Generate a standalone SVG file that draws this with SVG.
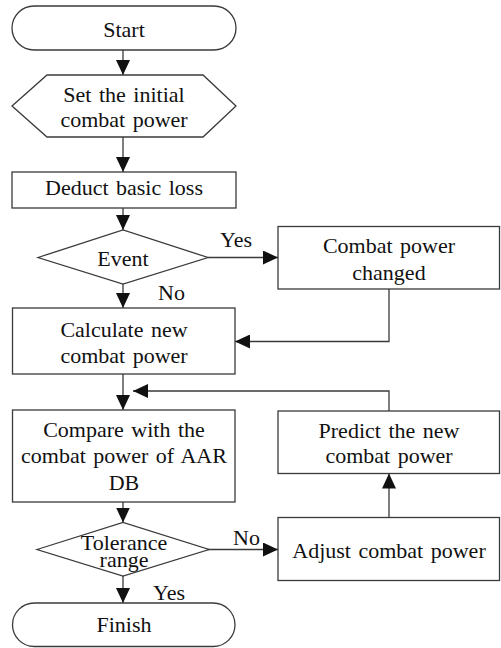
<svg xmlns="http://www.w3.org/2000/svg" width="501" height="648" viewBox="0 0 501 648">
  <style>
    .shape { fill: #ffffff; stroke: #3a3a3a; stroke-width: 1.3; }
    .wire { fill: none; stroke: #3a3a3a; stroke-width: 1.3; }
    .arrow { marker-end: url(#head); }
    .label { font-family: "Times New Roman", "Liberation Serif", Tinos, "DejaVu Serif", "Noto Serif", serif; font-size: 22px; fill: #111111; word-spacing: 2px; }
    .mid { text-anchor: middle; }
  </style>
  <defs>
    <marker id="head" markerUnits="userSpaceOnUse" markerWidth="16" markerHeight="14" refX="15" refY="7" orient="auto">
      <path d="M0,0 L15,7 L0,14 z" fill="#111111"/>
    </marker>
  </defs>
  <rect x="0" y="0" width="501" height="648" fill="#ffffff"/>

  <!-- connectors and their branch labels -->
  <g id="connectors">
    <line class="wire arrow" x1="123" y1="50" x2="123" y2="75"/>
    <line class="wire arrow" x1="123" y1="137" x2="123" y2="172"/>
    <line class="wire arrow" x1="123" y1="208" x2="123" y2="230"/>
    <line class="wire arrow" x1="208" y1="257.5" x2="278" y2="257.5"/>
    <polyline class="wire arrow" points="389,289 389,341.5 235,341.5"/>
    <line class="wire arrow" x1="123" y1="284" x2="123" y2="308"/>
    <line class="wire arrow" x1="123" y1="374" x2="123" y2="410"/>
    <polyline class="wire arrow" points="389,411 389,391 133,391"/>
    <line class="wire arrow" x1="123" y1="502" x2="123" y2="522.5"/>
    <line class="wire arrow" x1="208" y1="549.5" x2="278" y2="549.5"/>
    <line class="wire arrow" x1="389" y1="517.5" x2="389" y2="473.5"/>
    <line class="wire arrow" x1="123" y1="576" x2="123" y2="603"/>
    <text class="label" x="220" y="247">Yes</text>
    <text class="label" x="158" y="300">No</text>
    <text class="label" x="233" y="545">No</text>
    <text class="label" x="153" y="600">Yes</text>
  </g>

  <g id="start">
    <rect class="shape" x="12" y="6" width="224" height="44" rx="22" ry="22"/>
    <text class="label mid" x="124" y="36.5">Start</text>
  </g>

  <g id="set-initial">
    <polygon class="shape" points="12,106 47,75 203,75 236,106 203,137 47,137"/>
    <text class="label mid" x="124" y="101.5">Set the initial</text>
    <text class="label mid" x="124" y="126.5">combat power</text>
  </g>

  <g id="deduct">
    <rect class="shape" x="12" y="172" width="224" height="36"/>
    <text class="label mid" x="124" y="195">Deduct basic loss</text>
  </g>

  <g id="event">
    <polygon class="shape" points="38,257.5 123,230 208,257.5 123,284"/>
    <text class="label mid" x="123" y="265.5">Event</text>
  </g>

  <g id="power-changed">
    <rect class="shape" x="278" y="226.5" width="221.5" height="62.5"/>
    <text class="label mid" x="389" y="253">Combat power</text>
    <text class="label mid" x="389" y="280">changed</text>
  </g>

  <g id="calculate">
    <rect class="shape" x="12.5" y="308" width="222.5" height="66"/>
    <text class="label mid" x="124" y="336.5">Calculate new</text>
    <text class="label mid" x="124" y="363">combat power</text>
  </g>

  <g id="compare">
    <rect class="shape" x="12.5" y="410" width="222.5" height="92"/>
    <text class="label mid" x="124" y="436.5">Compare with the</text>
    <text class="label mid" x="124" y="463">combat power of AAR</text>
    <text class="label mid" x="124" y="490">DB</text>
  </g>

  <g id="predict">
    <rect class="shape" x="278" y="411" width="221.5" height="62.5"/>
    <text class="label mid" x="389" y="438">Predict the new</text>
    <text class="label mid" x="389" y="463">combat power</text>
  </g>

  <g id="tolerance">
    <polygon class="shape" points="37,549.5 123,522.5 209,549.5 123,576"/>
    <text class="label mid" x="124" y="550">Tolerance</text>
    <text class="label mid" x="124" y="567">range</text>
  </g>

  <g id="adjust">
    <rect class="shape" x="278" y="517.5" width="221.5" height="63"/>
    <text class="label mid" x="389" y="558">Adjust combat power</text>
  </g>

  <g id="finish">
    <rect class="shape" x="12.5" y="603" width="222.5" height="43.5" rx="21.75" ry="21.75"/>
    <text class="label mid" x="124" y="631.5">Finish</text>
  </g>
</svg>
